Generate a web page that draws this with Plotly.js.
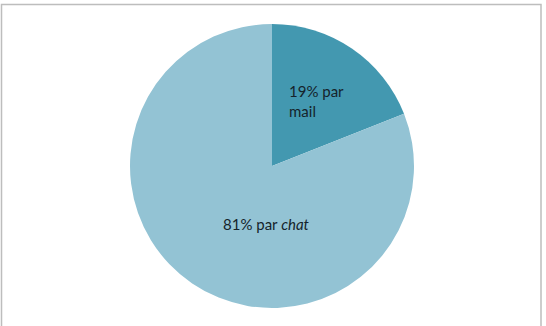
<!DOCTYPE html>
<html>
<head>
<meta charset="utf-8">
<script src="https://cdn.plot.ly/plotly-3.0.1.min.js"></script>
<style>html,body{margin:0;padding:0;background:#fff;}#chart{width:546px;height:326px;}</style>
</head>
<body>
<div id="chart"></div>
<script>
const categories = ['mail', 'chat'];
const values = [19, 81];
const labelTexts = ['19% par<br>mail', '81% par <i>chat</i>'];
const colors = ['#4398B0', '#93C3D4'];

const W = 546, H = 326;
const cx = 272, cy = 166, r = 142;

const trace = {
  type: 'pie',
  labels: categories,
  values: values,
  sort: false,
  direction: 'clockwise',
  rotation: 0,
  marker: {colors: colors, line: {width: 0}},
  textinfo: 'none',
  hoverinfo: 'none',
  showlegend: false,
  domain: {x: [(cx - r) / W, (cx + r) / W], y: [(H - cy - r) / H, (H - cy + r) / H]}
};

const font = {family: 'Lato, Calibri, sans-serif', size: 15, color: '#15232b'};
const annotations = [
  {x: 287 / W, y: 1 - 101 / H, xref: 'paper', yref: 'paper', text: labelTexts[0], showarrow: false, xanchor: 'left', yanchor: 'middle', align: 'left', font: font},
  {x: 266.5 / W, y: 1 - 224 / H, xref: 'paper', yref: 'paper', text: labelTexts[1], showarrow: false, xanchor: 'center', yanchor: 'middle', align: 'center', font: font}
];

const layout = {
  width: W, height: H,
  margin: {l: 0, r: 0, t: 0, b: 0},
  paper_bgcolor: '#ffffff',
  annotations: annotations,
  shapes: [{type: 'rect', xref: 'paper', yref: 'paper', x0: 1.5 / W, x1: 541 / W, y0: -0.05, y1: 1 - 4.5 / H, line: {color: '#BDBDBD', width: 1.5}, fillcolor: 'rgba(0,0,0,0)', layer: 'below'}]
};

Plotly.newPlot('chart', [trace], layout, {staticPlot: true, displayModeBar: false});
</script>
</body>
</html>
